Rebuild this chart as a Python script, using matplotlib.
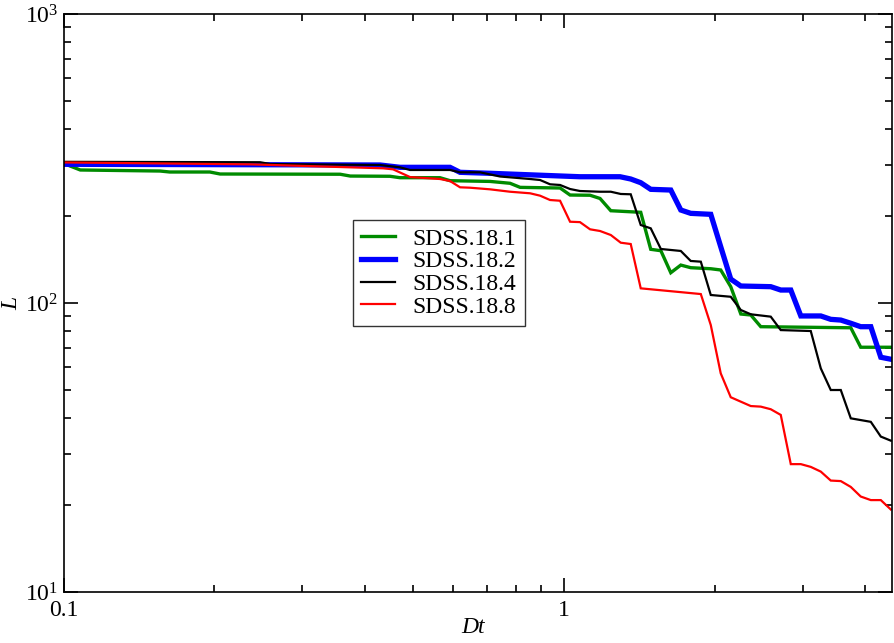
import math
import matplotlib
matplotlib.use("Agg")
import matplotlib.pyplot as plt
from matplotlib.ticker import LogLocator, FixedLocator, FuncFormatter, NullFormatter

plt.rcParams['font.family'] = ['Liberation Serif', 'DejaVu Serif']
plt.rcParams['mathtext.fontset'] = 'custom'
plt.rcParams['mathtext.rm'] = 'Liberation Serif'
plt.rcParams['mathtext.it'] = 'Liberation Serif:italic'

labels = ["SDSS.18.1", "SDSS.18.2", "SDSS.18.4", "SDSS.18.8"]
colors = ["#008b00", "#0000ff", "#000000", "#ff0000"]
widths = [2.4, 3.8, 1.6, 1.6]

x_181 = [0.1, 0.103, 0.108, 0.156, 0.163, 0.196, 0.2055, 0.357, 0.374, 0.449, 0.470,
         0.565, 0.592, 0.711, 0.780, 0.817, 0.982, 1.028, 1.127, 1.180, 1.240, 1.423,
         1.490, 1.561, 1.634, 1.711, 1.791, 1.964, 2.056, 2.153, 2.255, 2.361, 2.472,
         3.740, 3.915, 4.52]
y_181 = [305, 298, 288.6, 286.2, 284, 284, 279.5, 279, 275, 274.5, 271.4,
         271.4, 265, 263.5, 259.6, 251.3, 250, 236.4, 236, 230, 208.6, 206,
         153.4, 151.7, 127.3, 135.3, 132.5, 131.4, 130.1, 113.9, 91.6, 90.9, 82.8,
         82.1, 70.3, 70.3]

x_182 = [0.1, 0.429, 0.4703, 0.5918, 0.6197, 0.7113, 0.9376, 1.076, 1.294, 1.359,
         1.423, 1.490, 1.634, 1.711, 1.791, 1.964, 2.056, 2.153, 2.255, 2.588,
         2.710, 2.838, 2.972, 3.258, 3.411, 3.572, 3.740, 3.915, 4.101, 4.294, 4.496]
y_182 = [302, 300.3, 294.8, 294.8, 283.3, 281.1, 276, 273.5, 273.5, 268.6,
         260.8, 247.4, 246.0, 209.8, 204.3, 202.7, 156.6, 121.0, 114.5, 113.9,
         110.9, 110.9, 90.2, 90.2, 87.8, 87.3, 85.1, 82.8, 82.8, 64.9, 63.9]

x_184 = [0.1, 0.247, 0.2587, 0.429, 0.4703, 0.4924, 0.5918, 0.6197, 0.6795, 0.745,
         0.8553, 0.8954, 0.9376, 0.9818, 1.028, 1.076, 1.180, 1.240, 1.298, 1.359,
         1.423, 1.490, 1.561, 1.711, 1.791, 1.876, 1.964, 2.153, 2.255, 2.361,
         2.588, 2.710, 3.111, 3.258, 3.411, 3.572, 3.740, 4.101, 4.294, 4.496]
y_184 = [308, 307, 302.7, 300.3, 294.8, 288.6, 288.6, 283.3, 283.3, 274.0,
         268.6, 266.5, 257.5, 256.1, 248.0, 244.1, 242.7, 242.7, 238.4, 237.8,
         186.2, 181.3, 153.8, 151.4, 139.8, 139.0, 106.6, 105.1, 94.6, 91.4,
         89.7, 80.6, 80.0, 59.4, 50.0, 50.0, 39.9, 38.8, 34.5, 33.4]

x_188 = [0.1, 0.2359, 0.435, 0.4554, 0.4924, 0.5652, 0.5918, 0.6197, 0.6489, 0.7113,
         0.78, 0.8553, 0.8954, 0.9376, 0.9818, 1.028, 1.076, 1.127, 1.180, 1.240,
         1.298, 1.359, 1.423, 1.876, 1.964, 2.056, 2.153, 2.361, 2.472, 2.588,
         2.710, 2.838, 2.972, 3.111, 3.258, 3.411, 3.572, 3.740, 3.915, 4.101,
         4.294, 4.496]
y_188 = [306.5, 301.9, 292.5, 290.1, 272.8, 268.6, 264.3, 251.4, 250.6, 247.4,
         242.7, 239.7, 235.2, 227.2, 225.9, 191.1, 190.5, 179.9, 177.5, 171.9,
         161.7, 160.0, 112.4, 107.4, 83.9, 57.1, 47.2, 44.0, 43.8, 42.9,
         41.0, 27.7, 27.7, 27.1, 26.1, 24.3, 24.2, 23.1, 21.4, 20.8,
         20.8, 19.3]

xs = [x_181, x_182, x_184, x_188]
ys = [y_181, y_182, y_184, y_188]

fig = plt.figure(figsize=(8.95, 6.43), dpi=100)
ax = fig.add_axes([0.071, 0.0793, 0.9256, 0.8989])

for x, y, c, w, lab in zip(xs, ys, colors, widths, labels):
    ax.plot(x, y, color=c, lw=w, label=lab, solid_joinstyle='miter')

ax.set_xscale('log')
ax.set_yscale('log')
ax.set_xlim(0.1, 4.52)
ax.set_ylim(10, 1000)

ax.xaxis.set_major_locator(FixedLocator([0.1, 1]))
ax.xaxis.set_minor_locator(FixedLocator([0.2, 0.3, 0.4, 0.5, 0.6, 0.7, 0.8, 0.9, 2, 3, 4]))
ax.xaxis.set_major_formatter(FuncFormatter(lambda v, p: "0.1" if v < 0.5 else "1"))
ax.xaxis.set_minor_formatter(NullFormatter())
ax.yaxis.set_major_locator(FixedLocator([10, 100, 1000]))
ax.yaxis.set_minor_locator(LogLocator(base=10, subs=range(2, 10)))
ax.yaxis.set_major_formatter(FuncFormatter(
    lambda v, p: r"$\mathregular{10^{%d}}$" % round(math.log10(v))))
ax.yaxis.set_minor_formatter(NullFormatter())

ax.tick_params(which='both', direction='in', top=True, right=True, width=1.2, labelsize=17)
ax.tick_params(which='major', length=10)
ax.tick_params(which='minor', length=5)
ax.tick_params(axis='x', pad=6)
ax.tick_params(axis='y', pad=4)
for s in ax.spines.values():
    s.set_linewidth(1.2)

ax.set_xlabel("Dt", fontsize=17, style='italic')
ax.set_ylabel("L", fontsize=17, style='italic')
ax.xaxis.set_label_coords(0.494, -0.062)
ax.yaxis.set_label_coords(-0.062, 0.5)
ax.xaxis.label.set_va('center')
ax.yaxis.label.set_va('center')

leg = ax.legend(loc='upper left', bbox_to_anchor=(0.349, 0.644), borderaxespad=0,
                frameon=True, fancybox=False, fontsize=17, handlelength=1.45,
                handletextpad=0.75, labelspacing=0.05, borderpad=0.35)
leg.get_frame().set_edgecolor('black')
leg.get_frame().set_linewidth(1.0)

fig.savefig("out.png", dpi=100)
